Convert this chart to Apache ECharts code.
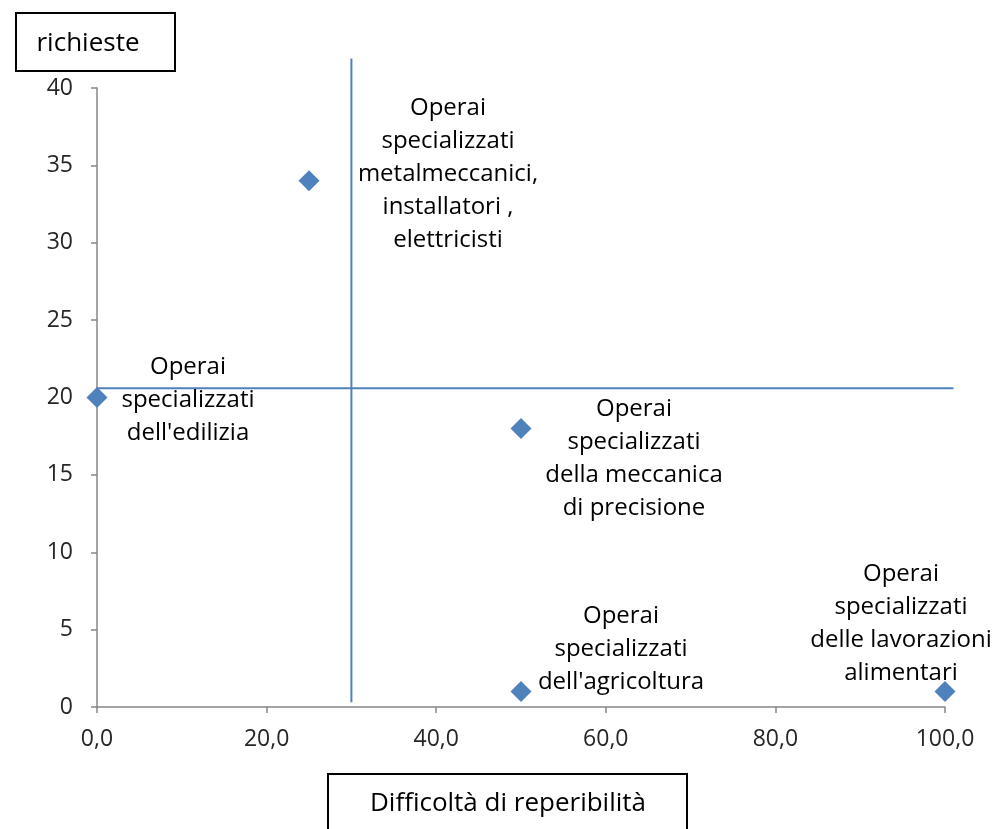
<!DOCTYPE html>
<html>
<head>
<meta charset="utf-8">
<script src="https://cdn.jsdelivr.net/npm/echarts@6/dist/echarts.min.js"></script>
<style>
  html, body { margin: 0; padding: 0; background: #fff; }
  #main { width: 993px; height: 829px; }
</style>
</head>
<body>
<div id="main"></div>
<script>
// categorie professionali
const categories = [
  "Operai\nspecializzati\nmetalmeccanici,\ninstallatori ,\nelettricisti",
  "Operai\nspecializzati\ndell'edilizia",
  "Operai\nspecializzati\ndella meccanica\ndi precisione",
  "Operai\nspecializzati\ndell'agricoltura",
  "Operai\nspecializzati\ndelle lavorazioni\nalimentari"
]
// difficoltà di reperibilità (asse x)
const difficolta = [25, 0, 50, 50, 100]
// richieste (asse y)
const richieste = [34, 20, 18, 1, 1]

// linee di riferimento (quadranti): [x inizio, y inizio, x fine, y fine]
const vLine = [30, 0.3, 30, 41.9]
const hLine = [0, 20.6, 101, 20.6]

// tick
const xTicks = [0, 20, 40, 60, 80, 100]
const yTicks = [0, 5, 10, 15, 20, 25, 30, 35, 40]

const font = "'Open Sans', sans-serif"
const blu = '#4f81bd'
const grigio = '#868686'

// spostamento delle etichette rispetto al punto
const labelOffsets = [[139, -7], [91, 3], [113, 30], [100, -42], [-44, -68]]

let chartDom = document.getElementById('main')
let myChart = echarts.init(chartDom)

let points = difficolta.map((x, i) => ({
  value: [x, richieste[i]],
  label: { offset: labelOffsets[i], formatter: categories[i] }
}))

// disegna un segmento tra due punti dati
function renderSegment(params, api) {
  const p0 = api.coord([api.value(0), api.value(1)])
  const p1 = api.coord([api.value(2), api.value(3)])
  return {
    type: 'line',
    shape: { x1: p0[0], y1: p0[1], x2: p1[0], y2: p1[1] },
    style: { stroke: blu, lineWidth: 2 }
  }
}

let option = {
  animation: false,
  textStyle: { fontFamily: font },
  grid: { left: 97, right: 48, top: 88, bottom: 122 },
  xAxis: {
    type: 'value',
    min: xTicks[0],
    max: xTicks[xTicks.length - 1],
    interval: 20,
    axisLine: { onZero: false, lineStyle: { color: grigio, width: 1.5 } },
    axisTick: { show: true, length: 6, lineStyle: { color: grigio, width: 1.5 } },
    splitLine: { show: false },
    axisLabel: {
      margin: 21,
      color: '#262626',
      fontSize: 23,
      fontFamily: font,
      formatter: v => v.toFixed(1).replace('.', ',')
    }
  },
  yAxis: {
    type: 'value',
    min: yTicks[0],
    max: yTicks[yTicks.length - 1],
    interval: 5,
    axisLine: { show: true, onZero: false, lineStyle: { color: grigio, width: 1.5 } },
    axisTick: { show: true, length: 6, lineStyle: { color: grigio, width: 1.5 } },
    splitLine: { show: false },
    axisLabel: { margin: 24, color: '#262626', fontSize: 23, fontFamily: font }
  },
  series: [
    {
      type: 'custom',
      data: [vLine, hLine],
      encode: { x: [0, 2], y: [1, 3] },
      renderItem: renderSegment,
      clip: false,
      silent: true
    },
    {
      type: 'scatter',
      data: points,
      symbol: 'diamond',
      symbolSize: 21,
      clip: false,
      itemStyle: { color: blu, opacity: 1 },
      label: {
        show: true,
        position: 'inside',
        align: 'center',
        verticalAlign: 'middle',
        color: '#000',
        fontSize: 24,
        lineHeight: 33,
        fontFamily: font
      }
    }
  ],
  graphic: [
    {
      type: 'group',
      left: 15, top: 12,
      children: [
        { type: 'rect', shape: { x: 0, y: 0, width: 159, height: 58 },
          style: { fill: '#fff', stroke: '#000', lineWidth: 2 } },
        { type: 'text', x: 72, y: 31,
          style: { text: 'richieste', fill: '#000', font: "26px 'Open Sans', sans-serif",
                   align: 'center', verticalAlign: 'middle' } }
      ]
    },
    {
      type: 'group',
      left: 327, top: 773,
      children: [
        { type: 'rect', shape: { x: 0, y: 0, width: 359, height: 70 },
          style: { fill: '#fff', stroke: '#000', lineWidth: 2 } },
        { type: 'text', x: 180, y: 30,
          style: { text: 'Difficoltà di reperibilità', fill: '#000', font: "26px 'Open Sans', sans-serif",
                   align: 'center', verticalAlign: 'middle' } }
      ]
    }
  ]
}

option && myChart.setOption(option)
</script>
</body>
</html>
